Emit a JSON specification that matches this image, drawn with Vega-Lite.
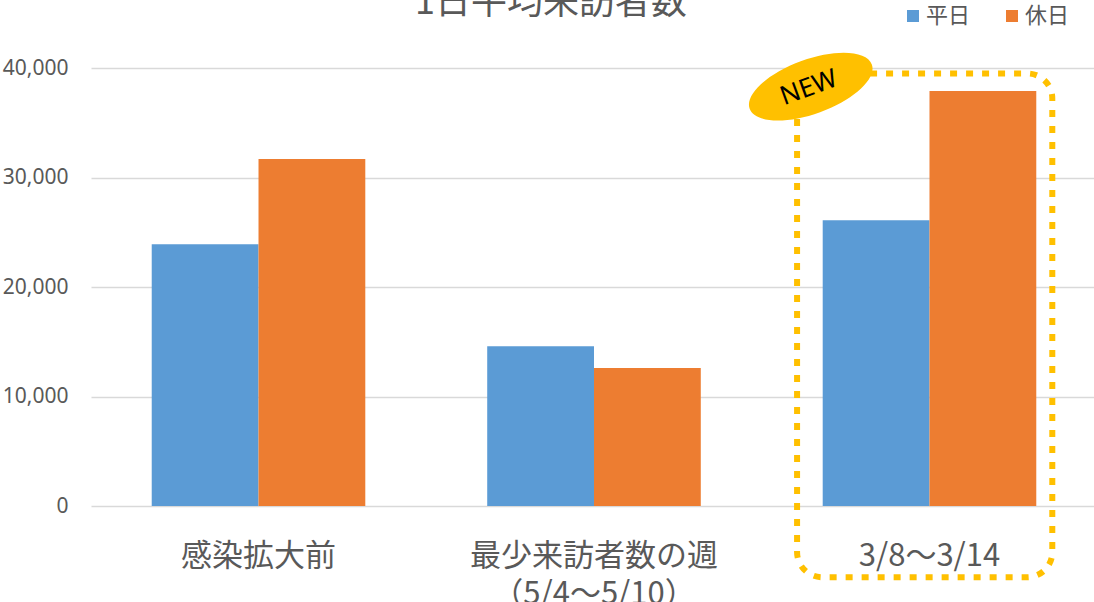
{
  "$schema": "https://vega.github.io/schema/vega-lite/v6.json",
  "width": 1006,
  "height": 438,
  "autosize": {"type": "none"},
  "padding": {"left": 91, "top": 68, "right": 0, "bottom": 96},
  "background": "white",
  "config": {
    "font": "Noto Sans CJK JP",
    "view": {"stroke": null}
  },
  "title": {
    "text": "1日平均来訪者数",
    "fontSize": 36,
    "fontWeight": "normal",
    "color": "#595959",
    "anchor": "middle",
    "frame": "group",
    "dx": -43,
    "dy": 36,
    "baseline": "alphabetic",
    "offset": -9
  },
  "layer": [
    {
      "data": {
        "values": [
          {"cat": "感染拡大前", "series": "平日", "value": 23900},
          {"cat": "感染拡大前", "series": "休日", "value": 31700},
          {"cat": "最少来訪者数の週\n（5/4～5/10）", "series": "平日", "value": 14600},
          {"cat": "最少来訪者数の週\n（5/4～5/10）", "series": "休日", "value": 12600},
          {"cat": "3/8～3/14", "series": "平日", "value": 26100},
          {"cat": "3/8～3/14", "series": "休日", "value": 37900}
        ]
      },
      "mark": {"type": "bar"},
      "encoding": {
        "x": {
          "field": "cat",
          "type": "nominal",
          "title": null,
          "scale": {
            "domain": ["感染拡大前", "最少来訪者数の週\n（5/4～5/10）", "3/8～3/14"],
            "paddingInner": 0.3634,
            "paddingOuter": 0.181
          },
          "axis": {
            "labelAngle": 0,
            "domain": false,
            "ticks": false,
            "labelFontSize": 31,
            "labelColor": "#595959",
            "labelBaseline": "alphabetic",
            "labelPadding": 59,
            "labelLineHeight": 38,
            "labelLimit": 0,
            "labelExpr": "split(datum.label, '\\n')"
          }
        },
        "xOffset": {"field": "series", "type": "nominal", "sort": ["平日", "休日"], "scale": {"paddingInner": 0, "paddingOuter": 0}},
        "y": {
          "field": "value",
          "type": "quantitative",
          "title": null,
          "scale": {"domain": [0, 40000], "nice": false},
          "axis": {
            "values": [0, 10000, 20000, 30000, 40000],
            "format": ",.0f",
            "domain": false,
            "ticks": false,
            "labelFontSize": 21,
            "labelColor": "#595959",
            "labelPadding": 23,
            "gridColor": "#d9d9d9",
            "gridWidth": 1.5,
            "labelFont": "Noto Sans"
          }
        },
        "color": {
          "field": "series",
          "type": "nominal",
          "title": null,
          "scale": {"domain": ["平日", "休日"], "range": ["#5b9bd5", "#ed7d31"]},
          "legend": {
            "orient": "none",
            "direction": "horizontal",
            "legendX": 811,
            "legendY": -63,
            "padding": 0,
            "symbolType": "square",
            "symbolSize": 144,
            "symbolStrokeWidth": 0,
            "labelFontSize": 22,
            "labelColor": "#595959",
            "labelOffset": 2,
            "columnPadding": 30
          }
        }
      }
    },
    {
      "data": {"values": [{}]},
      "mark": {
        "type": "rect",
        "fill": null,
        "fillOpacity": 0,
        "stroke": "#ffc000",
        "strokeWidth": 6,
        "strokeDash": [7, 9],
        "cornerRadius": 25
      },
      "encoding": {
        "x": {"datum": "3/8～3/14", "type": "nominal", "bandPosition": -0.12},
        "x2": {"datum": "3/8～3/14", "bandPosition": 1.075},
        "y": {"datum": 39500, "type": "quantitative"},
        "y2": {"datum": -6500}
      }
    },
    {
      "data": {"values": [{}]},
      "mark": {
        "type": "point",
        "shape": "M -1 0 A 1 0.42 0 1 1 1 0 A 1 0.42 0 1 1 -1 0 Z",
        "filled": true,
        "fill": "#ffc000",
        "opacity": 1,
        "strokeWidth": 0,
        "size": 16900,
        "angle": -20
      },
      "encoding": {
        "x": {"datum": "3/8～3/14", "type": "nominal", "bandPosition": -0.056},
        "y": {"datum": 38300, "type": "quantitative"}
      }
    },
    {
      "data": {"values": [{"label": "NEW"}]},
      "mark": {
        "type": "text",
        "angle": -20,
        "fontSize": 26,
        "font": "Noto Sans",
        "fill": "#000000",
        "align": "center",
        "baseline": "middle"
      },
      "encoding": {
        "x": {"datum": "3/8～3/14", "type": "nominal", "bandPosition": -0.065},
        "y": {"datum": 38200, "type": "quantitative"},
        "text": {"field": "label"}
      }
    }
  ]
}
